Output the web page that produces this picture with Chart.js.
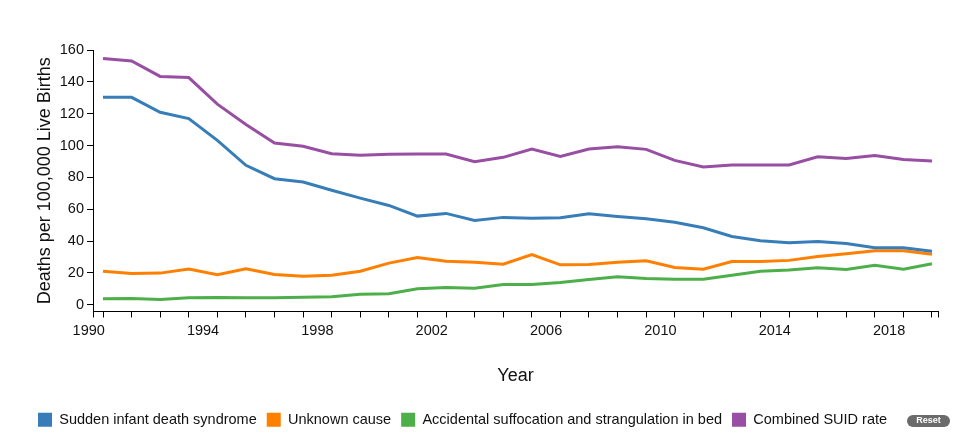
<!DOCTYPE html>
<html>
<head>
<meta charset="utf-8">
<script src="https://cdn.jsdelivr.net/npm/chart.js@4.4.0/dist/chart.umd.min.js"></script>
<style>
    body { margin: 0; background: #fff; }
    #wrap { position: relative; width: 975px; height: 442px; }
    #reset {
        position: absolute; left: 907px; top: 415px;
        width: 43px; height: 12px; line-height: 12px;
        border-radius: 6px; background: #6b6b6b; color: #fff;
        font: bold 9px "Liberation Sans", Arial, sans-serif;
        text-align: center;
    }
</style>
</head>
<body>
<div id="wrap">
    <canvas id="suidLineChart" width="975" height="442"></canvas>
    <div id="reset">Reset</div>
</div>
<script>
/********SUID rates line chart*********** */
const years = [
    1990, 1991, 1992, 1993, 1994, 1995, 1996, 1997, 1998, 1999,
    2000, 2001, 2002, 2003, 2004, 2005, 2006, 2007, 2008, 2009,
    2010, 2011, 2012, 2013, 2014, 2015, 2016, 2017, 2018, 2019,
];
const labelYears = [1990, 1994, 1998, 2002, 2006, 2010, 2014, 2018];

const sids = [
    130.3, 130.3, 120.9, 116.9, 103.3, 87.6, 79.2, 77.1, 71.9, 67.0,
    62.4, 55.7, 57.4, 53.0, 54.9, 54.3, 54.7, 57.2, 55.5, 54.1,
    51.9, 48.4, 42.9, 40.2, 39.0, 39.8, 38.5, 35.8, 35.8, 33.7,
];
const unknownCause = [
    21.1, 19.7, 19.9, 22.4, 18.9, 22.6, 19.0, 18.0, 18.6, 21.1,
    26.2, 29.7, 27.4, 26.8, 25.5, 31.6, 25.1, 25.3, 26.8, 27.6,
    23.5, 22.4, 27.2, 27.2, 27.9, 30.4, 32.1, 33.9, 33.9, 31.8,
];
const suffocation = [
    3.8, 4.0, 3.3, 4.4, 4.6, 4.4, 4.4, 4.8, 5.0, 6.7,
    6.9, 10.1, 10.9, 10.4, 12.8, 12.8, 14.0, 15.9, 17.6, 16.5,
    16.1, 16.1, 18.6, 21.1, 21.8, 23.3, 22.2, 24.9, 22.4, 25.8,
];
const combined = [
    154.7, 153.1, 143.4, 142.7, 126.0, 113.2, 101.6, 99.5, 94.9, 93.9,
    94.5, 94.7, 94.7, 89.9, 92.6, 97.8, 93.2, 97.8, 99.3, 97.6,
    90.7, 86.5, 87.8, 87.8, 87.8, 93.0, 91.8, 93.7, 91.3, 90.3,
];

// values are yearly, plotted at mid-year
const toPoints = (vals) => vals.map((v, i) => ({ x: years[i] + 0.5, y: v }));

const FONT = "'Liberation Sans', Arial, sans-serif";

function lineSet(label, vals, color) {
    return {
        label: label,
        data: toPoints(vals),
        borderColor: color,
        backgroundColor: color,
        borderWidth: 3,
        pointRadius: 0,
        tension: 0,
    };
}

// outer ticks at both ends of the x axis, like a d3 domain path
const axisEnds = {
    id: "axisEnds",
    afterDraw(chart) {
        const { ctx, chartArea } = chart;
        ctx.save();
        ctx.strokeStyle = "#000";
        ctx.lineWidth = 1;
        ctx.beginPath();
        [chartArea.left, chartArea.right].forEach((x) => {
            const px = Math.round(x) + 0.5;
            ctx.moveTo(px, chartArea.bottom);
            ctx.lineTo(px, chartArea.bottom + 6);
        });
        ctx.stroke();
        ctx.restore();
    },
};

const suid_ctx = document.getElementById("suidLineChart").getContext("2d");
const suidChart = new Chart(suid_ctx, {
    type: "line",
    data: {
        datasets: [
            lineSet("Sudden infant death syndrome", sids, "#377eb8"),
            lineSet("Unknown cause", unknownCause, "#ff7f00"),
            lineSet("Accidental suffocation and strangulation in bed", suffocation, "#4daf4a"),
            lineSet("Combined SUID rate", combined, "#984ea3"),
        ],
    },
    plugins: [axisEnds],
    options: {
        responsive: false,
        animation: false,
        layout: {
            padding: { top: 50, left: 28, right: 37, bottom: 5 },
        },
        plugins: {
            tooltip: { enabled: false },
            legend: {
                position: "bottom",
                align: "start",
                labels: {
                    boxWidth: 14,
                    boxHeight: 14,
                    padding: 10,
                    color: "#111",
                    font: { family: FONT, size: 14.5 },
                    generateLabels(chart) {
                        const items = Chart.defaults.plugins.legend.labels.generateLabels(chart);
                        items.forEach((it) => { it.lineWidth = 0; });
                        return items;
                    },
                },
            },
        },
        scales: {
            x: {
                type: "linear",
                min: 1990.15,
                max: 2019.71,
                afterBuildTicks(scale) {
                    scale.ticks = years.map((y) => ({ value: y }));
                },
                afterFit(scale) {
                    scale.height = 91;
                },
                ticks: {
                    autoSkip: false,
                    maxRotation: 0,
                    padding: 5,
                    color: "#111",
                    font: { family: FONT, size: 14.5 },
                    callback: (v) => (labelYears.includes(v) ? String(v) : ""),
                },
                grid: {
                    offset: true,
                    drawOnChartArea: false,
                    tickLength: 6,
                    color: "#000",
                },
                border: { color: "#000" },
                title: {
                    display: true,
                    text: "Year",
                    color: "#111",
                    font: { family: FONT, size: 18 },
                    padding: { top: 0, bottom: 16 },
                },
            },
            y: {
                min: -4.2,
                max: 160,
                afterFit(scale) {
                    scale.width = 65;
                },
                ticks: {
                    stepSize: 20,
                    includeBounds: false,
                    padding: 3,
                    color: "#111",
                    font: { family: FONT, size: 14.5 },
                },
                grid: {
                    drawOnChartArea: false,
                    tickLength: 6,
                    color: "#000",
                },
                border: { color: "#000" },
                title: {
                    display: true,
                    text: "Deaths per 100,000 Live Births",
                    color: "#111",
                    font: { family: FONT, size: 18 },
                    padding: { top: 6, bottom: 0 },
                },
            },
        },
    },
});
</script>
</body>
</html>
